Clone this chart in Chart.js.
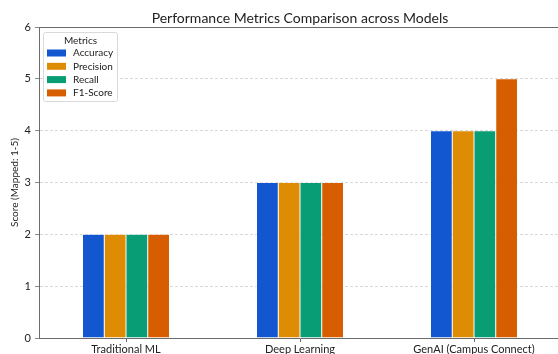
<!DOCTYPE html>
<html>
<head>
<meta charset="utf-8">
<script src="https://cdn.jsdelivr.net/npm/chart.js@4/dist/chart.umd.min.js"></script>
<style>
  html, body { margin: 0; padding: 0; background: #fff; overflow: hidden; }
  #wrap { position: relative; width: 558px; height: 354px; overflow: hidden; }
  canvas { position: absolute; left: 0; top: 0; }
</style>
</head>
<body>
<div id="wrap"><canvas id="c" width="562" height="354"></canvas></div>
<script>
const models = ['Traditional ML', 'Deep Learning', 'GenAI (Campus Connect)'];
const metricNames = ['Accuracy', 'Precision', 'Recall', 'F1-Score'];
const accuracy = [2, 3, 4];
const precision = [2, 3, 4];
const recall = [2, 3, 4];
const f1Score = [2, 3, 5];
const yTicks = [0, 1, 2, 3, 4, 5, 6];
const colors = ['#1256d0', '#df8c05', '#089d74', '#d65e00'];

const chartTitle = 'Performance Metrics Comparison across Models';
const yTitle = 'Score (Mapped: 1-5)';
const legendTitle = 'Metrics';
const FONT = 'Lato, "Open Sans", sans-serif';
const SPINE = '#6b6b6b';

const series = [accuracy, precision, recall, f1Score];

// Title, left-axis label, top spine and the boxed legend inside the plot
const decorations = {
  id: 'decorations',
  afterDraw(chart) {
    const ctx = chart.ctx;
    const a = chart.chartArea;
    ctx.save();
    ctx.setLineDash([]);
    // top spine
    ctx.strokeStyle = SPINE;
    ctx.lineWidth = 1;
    ctx.beginPath();
    ctx.moveTo(a.left, a.top + 0.5);
    ctx.lineTo(a.right, a.top + 0.5);
    ctx.stroke();
    // left spine (solid)
    ctx.beginPath();
    ctx.moveTo(a.left + 0.5, a.top);
    ctx.lineTo(a.left + 0.5, a.bottom);
    ctx.stroke();

    // chart title
    ctx.fillStyle = '#222';
    ctx.font = '14px ' + FONT;
    ctx.textAlign = 'center';
    ctx.textBaseline = 'middle';
    ctx.fillText(chartTitle, (a.left + a.right) / 2, 18);

    // y axis title
    ctx.save();
    ctx.translate(14.5, (a.top + a.bottom) / 2);
    ctx.rotate(-Math.PI / 2);
    ctx.font = '10px ' + FONT;
    ctx.fillStyle = '#222';
    ctx.fillText(yTitle, 0, 0);
    ctx.restore();

    // legend box
    const bx = 43.5, by = 32.5, bw = 74, bh = 69;
    ctx.fillStyle = 'rgba(255,255,255,0.85)';
    ctx.strokeStyle = '#d9d9d9';
    ctx.lineWidth = 1;
    ctx.beginPath();
    ctx.roundRect(bx, by, bw, bh, 2);
    ctx.fill();
    ctx.stroke();
    ctx.fillStyle = '#222';
    ctx.font = '10px ' + FONT;
    ctx.textAlign = 'center';
    ctx.fillText(legendTitle, bx + bw / 2, 40.5);
    ctx.textAlign = 'left';
    chart.data.datasets.forEach((ds, i) => {
      const cy = 53 + i * 13.3;
      ctx.fillStyle = ds.backgroundColor;
      ctx.fillRect(47, cy - 3.5, 19, 7);
      ctx.fillStyle = '#222';
      ctx.fillText(ds.label, 73, cy);
    });
    ctx.restore();
  }
};

new Chart(document.getElementById('c'), {
  type: 'bar',
  data: {
    labels: models,
    datasets: metricNames.map((name, i) => ({
      label: name,
      data: series[i],
      backgroundColor: colors[i],
      borderColor: '#ffffff',
      borderWidth: 0.5,
      categoryPercentage: 0.5,
      barPercentage: 1.0
    }))
  },
  options: {
    responsive: false,
    animation: false,
    devicePixelRatio: 1,
    layout: { padding: { top: 27, right: 1, left: 0, bottom: 0 } },
    plugins: {
      legend: { display: false },
      title: { display: false },
      tooltip: { enabled: false }
    },
    scales: {
      x: {
        offset: true,
        afterFit(scale) { scale.height = 16; },
        grid: {
          display: true,
          drawOnChartArea: false,
          drawTicks: true,
          tickLength: 4,
          tickColor: SPINE,
          offset: false
        },
        border: { display: true, color: SPINE, width: 1 },
        ticks: {
          color: '#222',
          padding: 1,
          font: { family: FONT, size: 11 },
          maxRotation: 0
        }
      },
      y: {
        min: 0,
        max: 6,
        afterFit(scale) { scale.width = 39; },
        afterBuildTicks(scale) { scale.ticks = yTicks.map(v => ({ value: v })); },
        grid: {
          color: ctx => (ctx.tick && (ctx.tick.value === 0 || ctx.tick.value === 6)) ? 'rgba(0,0,0,0)' : '#cfcfcf',
          lineWidth: 0.8,
          drawTicks: true,
          tickLength: 4,
          tickColor: SPINE,
          tickBorderDash: []
        },
        border: { display: true, color: SPINE, width: 1, dash: [3, 2] },
        ticks: {
          color: '#222',
          padding: 4,
          font: { family: FONT, size: 11 },
          callback: v => String(v)
        }
      }
    }
  },
  plugins: [decorations]
});
</script>
</body>
</html>
